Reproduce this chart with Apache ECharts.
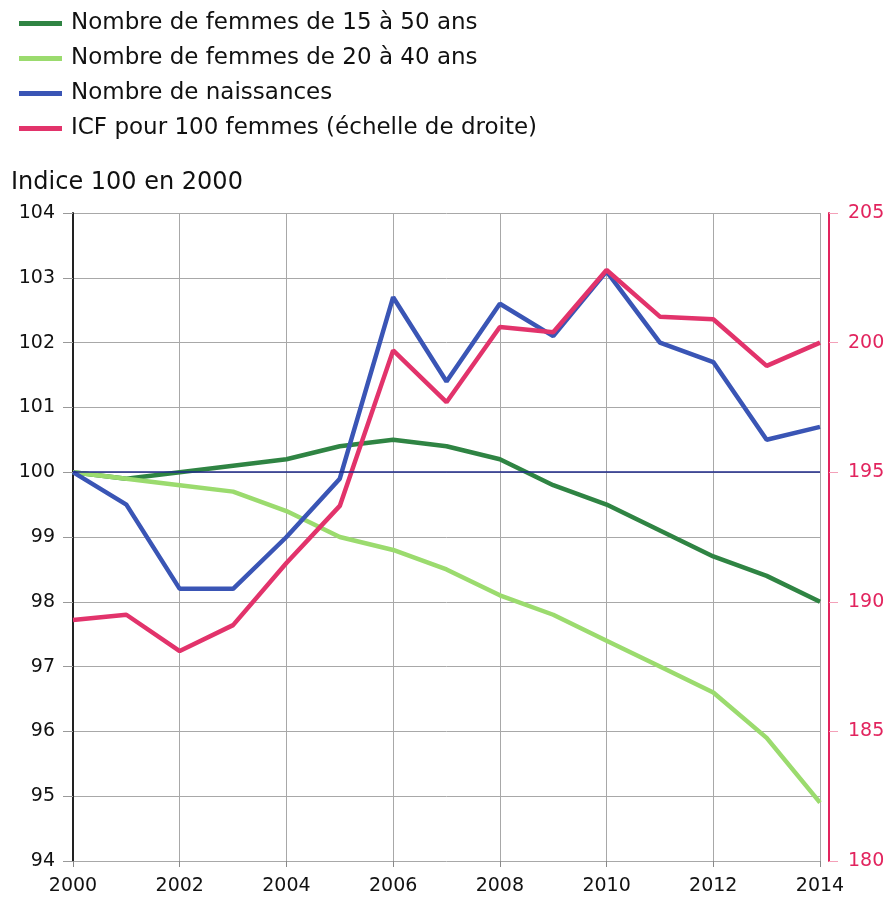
<!DOCTYPE html>
<html><head><meta charset="utf-8">
<script src="https://cdn.jsdelivr.net/npm/echarts@6/dist/echarts.min.js"></script>
<style>html,body{margin:0;padding:0;background:#fff}#c{width:893px;height:900px}</style>
</head><body><div id="c"></div>
<script>
const years = [2000,2001,2002,2003,2004,2005,2006,2007,2008,2009,2010,2011,2012,2013,2014];
const femmes15_50 = [100,99.9,100.0,100.1,100.2,100.4,100.5,100.4,100.2,99.8,99.5,99.1,98.7,98.4,98.0];
const femmes20_40 = [100,99.9,99.8,99.7,99.4,99.0,98.8,98.5,98.1,97.8,97.4,97.0,96.6,95.9,94.9];
const naissances = [100,99.5,98.2,98.2,99.0,99.9,102.7,101.4,102.6,102.1,103.1,102.0,101.7,100.5,100.7];
const icf = [189.3,189.5,188.1,189.1,191.5,193.7,199.7,197.7,200.6,200.4,202.8,201.0,200.9,199.1,200.0];
const names = ['Nombre de femmes de 15 à 50 ans','Nombre de femmes de 20 à 40 ans','Nombre de naissances','ICF pour 100 femmes (échelle de droite)'];
const colors = ['#2f8443','#9bdb6e','#3a55b5','#e2336b'];
const font = 'Verdana, DejaVu Sans, sans-serif';
const pair = arr => years.map((y,i)=>[y,arr[i]]);
const chart = echarts.init(document.getElementById('c'));
chart.setOption({
  animation:false,
  textStyle:{fontFamily:font},
  legend:{orient:'vertical',left:14,top:7,itemGap:12,itemWidth:43,itemHeight:5,icon:'rect',
    textStyle:{fontFamily:font,fontSize:23,color:'#111',padding:[0,0,0,4]},data:names},
  graphic:[{type:'text',left:11,top:171,style:{text:'Indice 100 en 2000',font:'24px '+font,fill:'#111'}}],
  grid:{left:73,right:73,top:213,bottom:39},
  xAxis:{type:'value',min:2000,max:2014,interval:2,
    axisLine:{show:false},
    axisTick:{show:true,length:6,lineStyle:{color:'#888'}},
    axisLabel:{fontFamily:font,fontSize:19,color:'#111',margin:16,formatter:v=>String(v)},
    splitLine:{show:true,lineStyle:{color:'#a8a8a8',width:1}}},
  yAxis:[{type:'value',min:94,max:104,interval:1,
    axisLine:{show:true,lineStyle:{color:'#222',width:2}},
    axisTick:{show:true,length:10,lineStyle:{color:'#999'}},
    axisLabel:{fontFamily:font,fontSize:19,color:'#111',margin:18},
    splitLine:{show:true,lineStyle:{color:'#a8a8a8',width:1}}},
   {type:'value',min:180,max:205,interval:5,position:'right',offset:9,
    axisLine:{show:true,lineStyle:{color:'#e2245e',width:2}},
    axisTick:{show:true,length:9,lineStyle:{color:'#f4a0b8'}},
    axisLabel:{fontFamily:font,fontSize:19,color:'#e2245e',margin:19},
    splitLine:{show:false}}],
  series:[
    {name:names[0],type:'line',yAxisIndex:0,data:pair(femmes15_50),showSymbol:false,lineStyle:{width:4.5,color:colors[0]},itemStyle:{color:colors[0]},
     markLine:{silent:true,symbol:'none',label:{show:false},lineStyle:{color:'#1f2a8a',width:1.5,type:'solid'},data:[{yAxis:100}]}},
    {name:names[1],type:'line',yAxisIndex:0,data:pair(femmes20_40),showSymbol:false,lineStyle:{width:4.5,color:colors[1]},itemStyle:{color:colors[1]}},
    {name:names[2],type:'line',yAxisIndex:0,data:pair(naissances),showSymbol:false,lineStyle:{width:4.5,color:colors[2]},itemStyle:{color:colors[2]}},
    {name:names[3],type:'line',yAxisIndex:1,data:pair(icf),showSymbol:false,lineStyle:{width:4.5,color:colors[3]},itemStyle:{color:colors[3]}}
  ]
});
</script></body></html>
